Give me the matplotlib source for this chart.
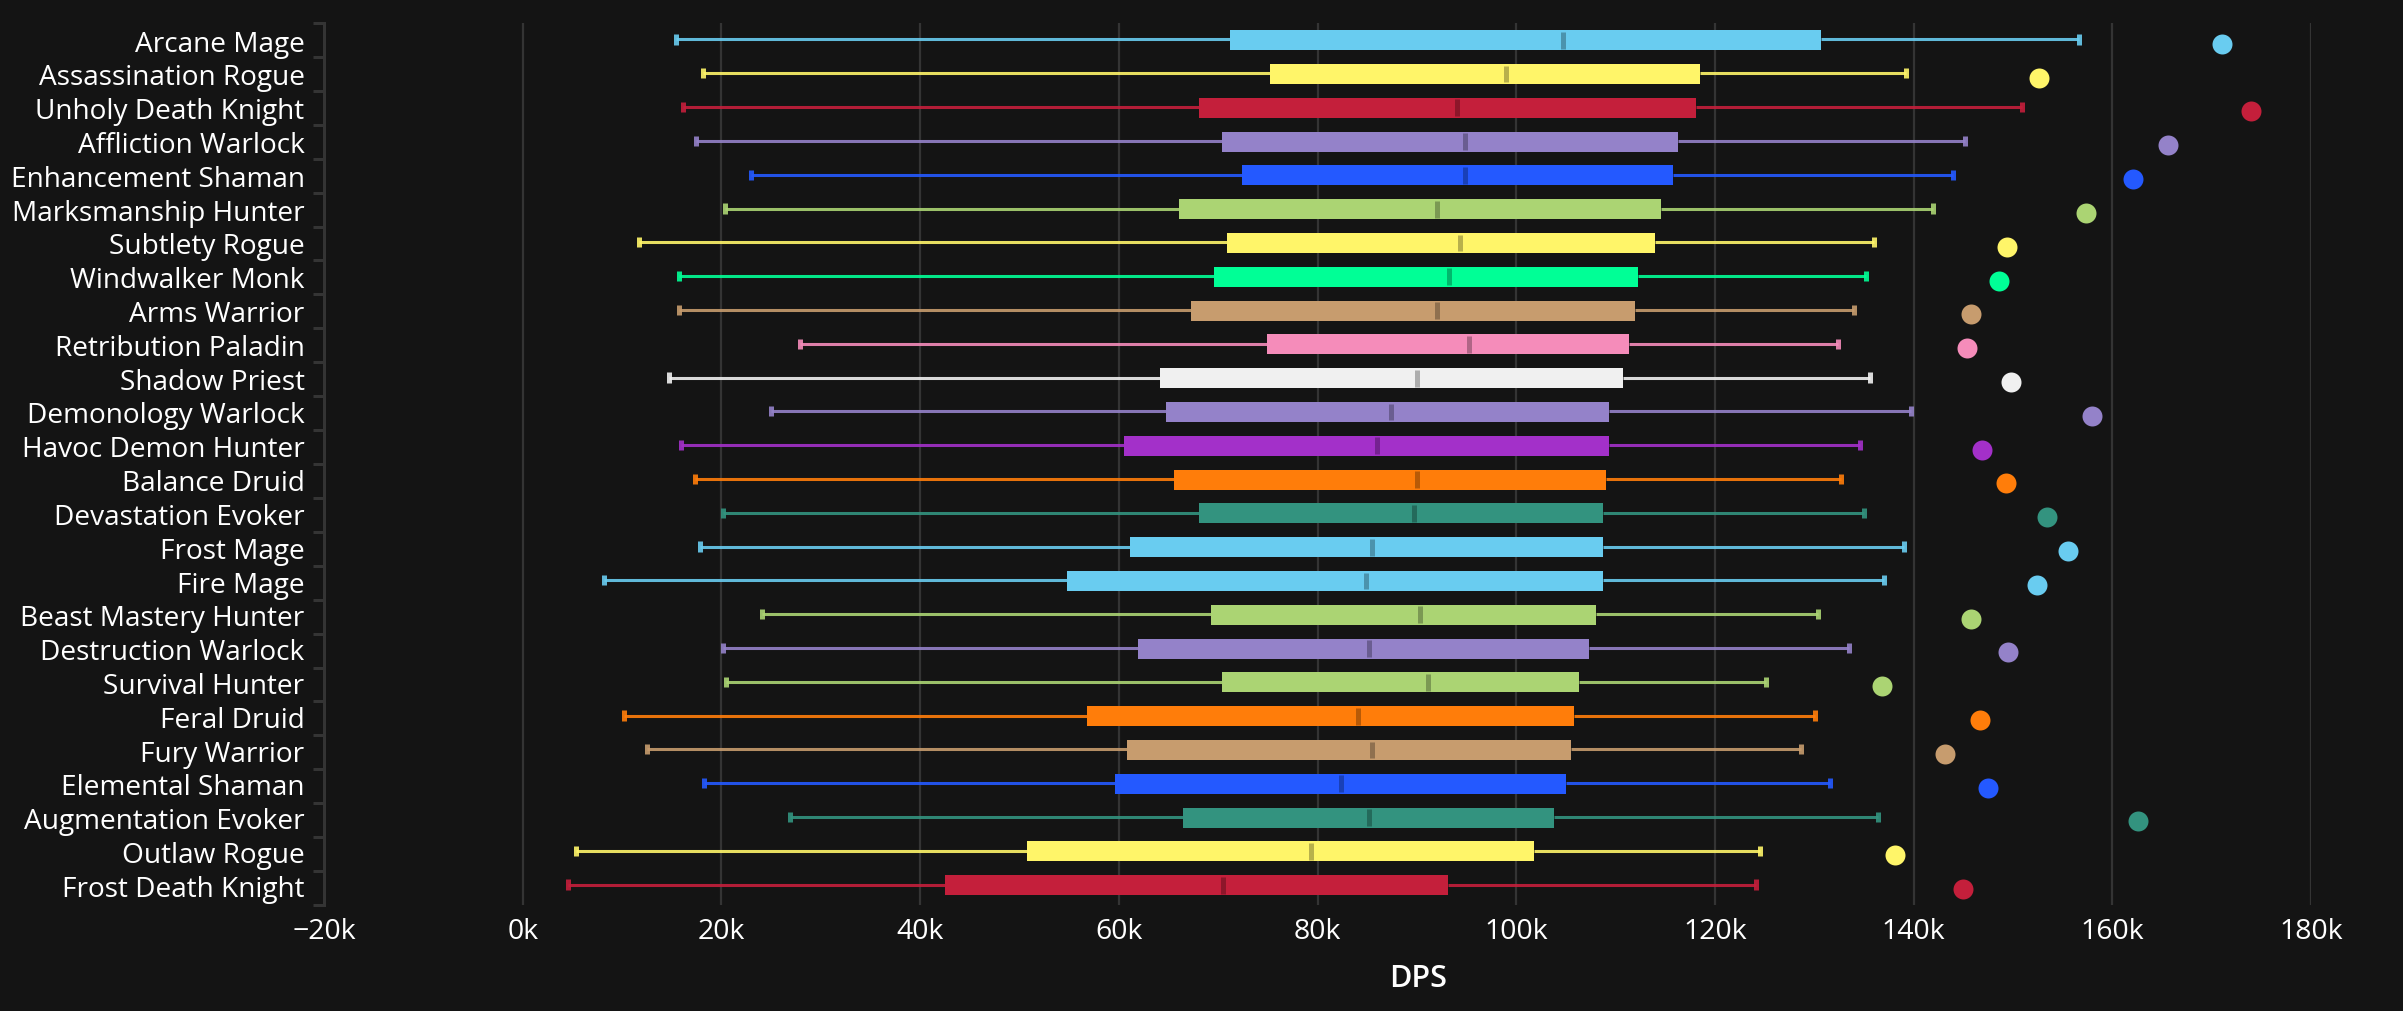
import matplotlib
matplotlib.use("Agg")
import matplotlib.pyplot as plt
from matplotlib.ticker import FuncFormatter

specs = ["Arcane Mage", "Assassination Rogue", "Unholy Death Knight", "Affliction Warlock",
         "Enhancement Shaman", "Marksmanship Hunter", "Subtlety Rogue", "Windwalker Monk",
         "Arms Warrior", "Retribution Paladin", "Shadow Priest", "Demonology Warlock",
         "Havoc Demon Hunter", "Balance Druid", "Devastation Evoker", "Frost Mage", "Fire Mage",
         "Beast Mastery Hunter", "Destruction Warlock", "Survival Hunter", "Feral Druid",
         "Fury Warrior", "Elemental Shaman", "Augmentation Evoker", "Outlaw Rogue",
         "Frost Death Knight"]
lows = [15.4, 18.1, 16.1, 17.4, 23.0, 20.4, 11.7, 15.7, 15.7, 27.9, 14.7, 25.0, 15.9, 17.3, 20.2,
        17.8, 8.2, 24.1, 20.2, 20.5, 10.2, 12.5, 18.2, 26.9, 5.4, 4.6]
q1s = [71.2, 75.2, 68.1, 70.4, 72.4, 66.1, 70.9, 69.6, 67.3, 74.9, 64.1, 64.8, 60.5, 65.6, 68.1,
       61.1, 54.8, 69.3, 61.9, 70.4, 56.8, 60.8, 59.6, 66.5, 50.8, 42.5]
medians = [104.7, 99.0, 94.0, 94.8, 94.8, 92.0, 94.3, 93.2, 92.0, 95.2, 90.0, 87.4, 86.0, 90.0, 89.7,
           85.5, 84.9, 90.3, 85.2, 91.1, 84.1, 85.5, 82.4, 85.2, 79.3, 70.5]
q3s = [130.7, 118.5, 118.1, 116.3, 115.8, 114.6, 114.0, 112.3, 112.0, 111.4, 110.7, 109.3, 109.3, 109.0, 108.7,
       108.7, 108.7, 108.0, 107.3, 106.3, 105.8, 105.5, 105.0, 103.8, 101.8, 93.1]
highs = [156.6, 139.2, 150.9, 145.2, 144.0, 142.0, 136.0, 135.2, 134.0, 132.4, 135.6, 139.7, 134.6, 132.7, 135.0,
         139.0, 137.0, 130.4, 133.5, 125.1, 130.1, 128.7, 131.6, 136.4, 124.5, 124.1]
tops = [171.0, 152.6, 174.0, 165.6, 162.1, 157.4, 149.4, 148.6, 145.8, 145.4, 149.8, 158.0, 146.9, 149.3, 153.4,
        155.5, 152.4, 145.8, 149.5, 136.8, 146.7, 143.2, 147.5, 162.6, 138.1, 145.0]

MAGE, ROGUE, DK, LOCK, SHAM, HUNT = "#69CCF0", "#FFF569", "#C41F3B", "#9482C9", "#2459FF", "#ABD473"
MONK, WAR, PAL, PRIEST, DH, DRUID, EVO = "#00FF96", "#C79C6E", "#F58CBA", "#F0F0F0", "#A330C9", "#FF7D0A", "#33937F"
colors = [MAGE, ROGUE, DK, LOCK, SHAM, HUNT, ROGUE, MONK, WAR, PAL, PRIEST, LOCK, DH, DRUID, EVO, MAGE, MAGE,
          HUNT, LOCK, HUNT, DRUID, WAR, SHAM, EVO, ROGUE, DK]
x_ticks = [-20, 0, 20, 40, 60, 80, 100, 120, 140, 160, 180]

BG = "#141414"
FONT = ["Open Sans", "DejaVu Sans"]
W, H = 2403, 1012
fig = plt.figure(figsize=(W / 100, H / 100), dpi=100, facecolor=BG)
ax = fig.add_axes([324 / W, 1 - 906 / H, (2311 - 324) / W, (906 - 24) / H], facecolor=BG)

for x in x_ticks[1:]:
    ax.axvline(x, color="#343434", lw=1.6, zorder=1)

whisker_off = -0.02
dot_off = 0.11
for i, name in enumerate(specs):
    c = colors[i]
    y = i + whisker_off
    ax.hlines(y, lows[i], q1s[i], color=c, lw=2.2, alpha=0.9, zorder=2)
    ax.hlines(y, q3s[i], highs[i], color=c, lw=2.2, alpha=0.9, zorder=2)
    ax.vlines([lows[i], highs[i]], y - 0.15, y + 0.15, color=c, lw=3.6, alpha=0.9, zorder=2)
    ax.barh(i, q3s[i] - q1s[i], left=q1s[i], height=0.59, color=c, linewidth=0, zorder=3)
    ax.vlines(medians[i], i - 0.25, i + 0.25, color="black", alpha=0.28, lw=3.6, zorder=4)
    ax.scatter(tops[i], i + dot_off, s=207, color=c, linewidth=0, zorder=5)

ax.set_xlim(-20, 180)
y_top, y_bottom = -0.508, 25.585
ax.set_ylim(y_bottom, y_top)
ax.set_xticks(x_ticks)
ax.xaxis.set_major_formatter(FuncFormatter(lambda v, _: f"\u2212{abs(v):.0f}k" if v < 0 else f"{v:.0f}k"))
ax.set_yticks(range(len(specs)))
ax.set_yticklabels(specs)
n = len(specs)
ax.set_yticks([y_top + k * (y_bottom - y_top) / n for k in range(n + 1)], minor=True)
ax.tick_params(axis="y", which="major", length=0, pad=14, labelcolor="white", labelsize=20.2)
ax.tick_params(axis="y", which="minor", length=8, width=2.2, color="#343434")
ax.tick_params(axis="x", length=0, pad=8.5, labelcolor="white", labelsize=20.5)
for lab in ax.get_xticklabels() + ax.get_yticklabels():
    lab.set_family(FONT)
for s in ["top", "right", "bottom"]:
    ax.spines[s].set_visible(False)
ax.spines["left"].set_color("#343434")
ax.spines["left"].set_linewidth(2.2)
ax.set_xlabel("DPS", x=(1418 - 324) / (2311 - 324), color="white", fontsize=22, fontweight="semibold",
              family=FONT, labelpad=13)

fig.savefig("out.png", dpi=100, facecolor=BG)
